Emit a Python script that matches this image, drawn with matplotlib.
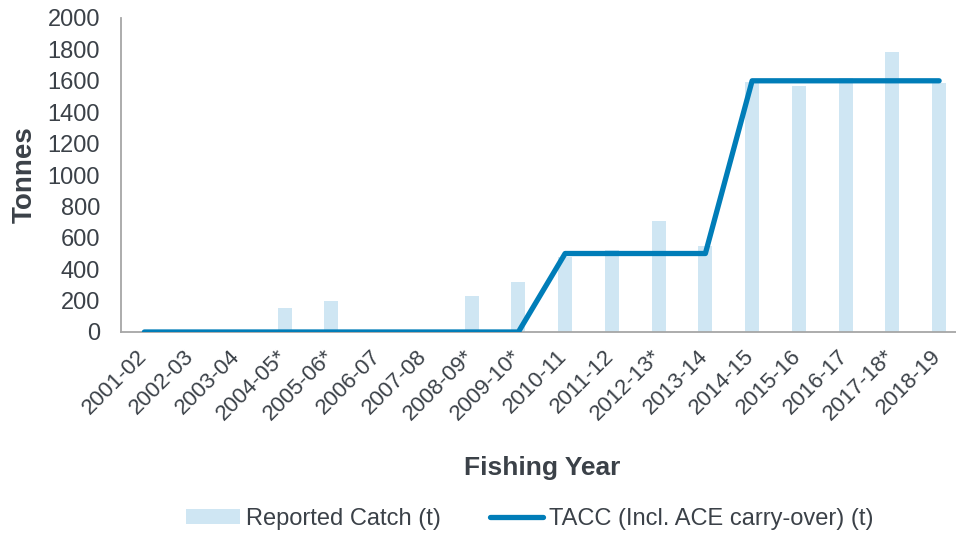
import numpy as np
import matplotlib.pyplot as plt
import matplotlib.transforms as mtransforms

plt.rcParams['font.family'] = ['Liberation Sans', 'DejaVu Sans']

# Data
years = ['2001-02', '2002-03', '2003-04', '2004-05*', '2005-06*', '2006-07',
         '2007-08', '2008-09*', '2009-10*', '2010-11', '2011-12', '2012-13*',
         '2013-14', '2014-15', '2015-16', '2016-17', '2017-18*', '2018-19']
catch = [0, 0, 0, 155, 197, 0, 0, 229, 320, 480, 522, 705,
         548, 1590, 1567, 1620, 1781, 1588]
tacc = [0, 0, 0, 0, 0, 0, 0, 0, 0, 500, 500, 500,
        500, 1600, 1600, 1600, 1600, 1600]

text_col = '#3b4148'
bar_col = '#cfe6f3'
line_col = '#007db8'

fig = plt.figure(figsize=(9.56, 5.33), dpi=100)
ax = fig.add_axes([121 / 956, 1 - 332 / 533, 841.5 / 956, 314 / 533])

x = np.arange(len(years))
bars = ax.bar(x, catch, width=0.3, color=bar_col, label='Reported Catch (t)', zorder=2)
line, = ax.plot(x, tacc, color=line_col, linewidth=3.8, solid_capstyle='round',
                label='TACC (Incl. ACE carry-over) (t)', zorder=3)

ax.set_xlim(-0.5, len(years) - 0.5)
ax.set_ylim(0, 2000)
ax.set_yticks(range(0, 2001, 200))
ax.tick_params(axis='y', length=0, labelsize=17, labelcolor=text_col, pad=15)
ax.set_xticks(x)
ax.set_xticklabels(years, rotation=45, ha='right', va='top', rotation_mode='anchor')
ax.tick_params(axis='x', length=0, labelsize=16, labelcolor=text_col, pad=8)
shift = mtransforms.ScaledTranslation(-6 / 72, -2 / 72, fig.dpi_scale_trans)
for lab in ax.get_xticklabels():
    lab.set_transform(lab.get_transform() + shift)

for s in ['top', 'right']:
    ax.spines[s].set_visible(False)
for s in ['left', 'bottom']:
    ax.spines[s].set_color('#a6a6a6')
    ax.spines[s].set_linewidth(1.3)

fig.text(25 / 956, 1 - 175 / 533, 'Tonnes', fontsize=20, fontweight='bold',
         color=text_col, rotation=90, ha='center', va='center')
fig.text(542 / 956, 1 - 468 / 533, 'Fishing Year', fontsize=19,
         fontweight='bold', color=text_col, ha='center', va='center')

fig.legend(handles=[bars, line], loc='center', bbox_to_anchor=(530 / 956, 1 - 519 / 533),
           ncol=2, frameon=False, fontsize=17, handlelength=2.25, handleheight=0.6,
           columnspacing=2.1, handletextpad=0.25, labelcolor=text_col)

plt.savefig('out.png', dpi=100)
